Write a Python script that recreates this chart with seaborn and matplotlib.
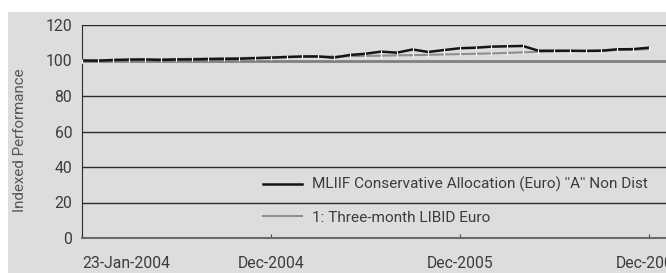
import pandas as pd
import seaborn as sns
import matplotlib.pyplot as plt
from matplotlib.patches import Rectangle
from matplotlib.transforms import ScaledTranslation

# Monthly index values (23-Jan-2004 .. Dec-2006)
fund = [100.0, 99.9, 100.3, 100.5, 100.6, 100.3, 100.6, 100.6, 100.8, 100.9,
        101.0, 101.3, 101.6, 102.0, 102.3, 102.3, 101.6, 103.1, 103.8, 105.0,
        104.4, 106.2, 104.8, 105.9, 106.9, 107.2, 107.8, 108.0, 108.2, 105.5,
        105.5, 105.5, 105.4, 105.5, 106.3, 106.4, 107.2]
libid = [100.0, 100.1, 100.3, 100.4, 100.5, 100.7, 100.8, 101.0, 101.1, 101.3,
         101.4, 101.6, 101.7, 101.8, 102.0, 102.1, 102.3, 102.4, 102.6, 102.7,
         102.9, 103.0, 103.2, 103.4, 103.6, 103.8, 104.0, 104.3, 104.6, 104.9,
         105.1, 105.3, 105.4, 105.6, 105.9, 106.1, 106.4]
fund_name = "MLIIF Conservative Allocation (Euro) ''A'' Non Dist"
libid_name = "1: Three-month LIBID Euro"
tick_pos = [0, 12, 24, 36]
tick_labels = ['23-Jan-2004', 'Dec-2004', 'Dec-2005', 'Dec-2006']

df = pd.DataFrame({'month': list(range(len(fund))) * 2,
                   'value': fund + libid,
                   'series': [fund_name] * len(fund) + [libid_name] * len(libid)})

bg = '#dcdddf'
txt = '#3c3c3c'
plt.rcParams['font.family'] = ['Roboto', 'DejaVu Sans']

fig = plt.figure(figsize=(6.66, 2.73), dpi=100)
fig.patches.append(Rectangle((8 / 666, 0), 1, 1 - 12 / 273, transform=fig.transFigure,
                             facecolor=bg, edgecolor='none', zorder=-5))
ax = fig.add_axes([82 / 666, 35 / 273, 1 - 82 / 666, 213 / 273])
ax.set_facecolor(bg)

# gridlines
for v in [20, 40, 60, 80, 120]:
    ax.axhline(v, color='#2a2a2a', lw=1.0, zorder=1)
ax.axhline(100, color='#808080', lw=2.0, zorder=1)

sns.lineplot(data=df[df.series == libid_name], x='month', y='value', color='#8f8f8f',
             lw=1.5, marker='|', markersize=3, markeredgewidth=0.8, label=libid_name,
             ax=ax, zorder=3)
sns.lineplot(data=df[df.series == fund_name], x='month', y='value', color='#151515',
             lw=1.8, marker='|', markersize=3, markeredgewidth=0.8, label=fund_name,
             ax=ax, zorder=4)

ax.set_xlim(0, 37.1)
ax.set_ylim(0, 120)
ax.set_yticks([0, 20, 40, 60, 80, 100, 120])
ax.set_xticks(tick_pos)
ax.set_xticklabels(tick_labels)
xl = ax.get_xticklabels()
xl[0].set_horizontalalignment('left')
xl[-1].set_transform(xl[-1].get_transform() + ScaledTranslation(-0.14, 0, fig.dpi_scale_trans))
ax.tick_params(axis='y', length=0, pad=7, labelsize=11.3, labelcolor=txt)
ax.tick_params(axis='x', direction='in', length=3, color='#444444', pad=13,
               labelsize=11.3, labelcolor=txt)
ax.set_xlabel('')
ax.set_ylabel('Indexed Performance', fontsize=10.9, color='#555555')
ax.yaxis.set_label_coords(-0.094, 0.46)
for s in ['top', 'right']:
    ax.spines[s].set_visible(False)
ax.spines['left'].set_color('#2a2a2a')
ax.spines['bottom'].set_color('#6a6a6a')
ax.spines['bottom'].set_linewidth(1.5)

handles, labels = ax.get_legend_handles_labels()
ax.legend(handles[::-1], labels[::-1], loc='center left', bbox_to_anchor=(0.31, 0.174),
          frameon=False, fontsize=11.1, labelcolor=txt, handlelength=2.5,
          handletextpad=0.7, labelspacing=1.2, borderpad=0, borderaxespad=0)
for h in ax.get_legend().legend_handles:
    h.set_marker('')

fig.savefig('out.png', dpi=100)
